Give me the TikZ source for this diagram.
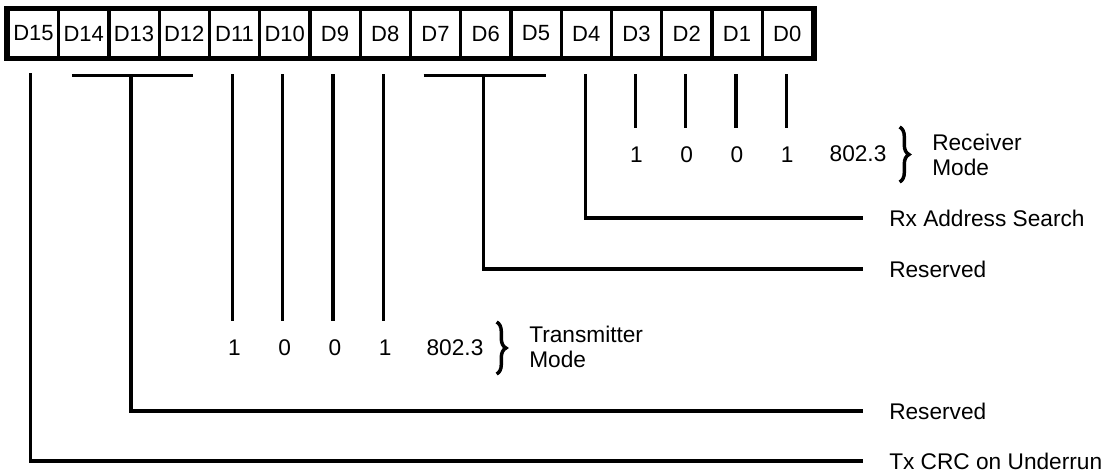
\documentclass[tikz,border=0pt]{standalone}
\usepackage{fontspec}
\setmainfont{Liberation Sans}
\usetikzlibrary{calc,decorations.pathreplacing}

\begin{document}
\begin{tikzpicture}[
    x=0.75pt, y=-0.75pt,
    bit/.style={fill=white, inner sep=0pt, minimum width=35.25pt,
      minimum height=33.75pt, font=\fontsize{16.5}{19}\selectfont},
    val/.style={inner sep=0pt, font=\fontsize{17}{20}\selectfont},
    lbl/.style={anchor=west, inner sep=0pt, align=left,
      font=\fontsize{17}{18.75}\selectfont},
    wire/.style={line width=2.4pt},
    brc/.style={decorate, decoration={brace, amplitude=7pt}, line width=2.6pt}
  ]
  \useasboundingbox (0,0) rectangle (1107,472);

  % Register frame and bit cells
  \fill (4,6) rectangle (817,61);
  \foreach \i in {15,...,0} {
    \node[bit] (D\i) at ({33.5+50.25*(15-\i)},33.5) {D\i};
  }

  % Labels (right)
  \node[lbl] (rxs)  at (889,218) {Rx Address Search};
  \node[lbl] (res1) at (889,269) {Reserved};
  \node[lbl] (res2) at (889,411) {Reserved};
  \node[lbl] (crc)  at (889,461) {Tx CRC on Underrun};

  % Mode values
  \foreach \i/\v in {11/1,10/0,9/0,8/1}
    \node[val] (tv\i) at (D\i |- 0,348) {\v};
  \foreach \i/\v in {3/1,2/0,1/0,0/1}
    \node[val] (rv\i) at (D\i |- 0,155) {\v};
  \node[val] (tstd) at (455,348) {802.3};
  \node[val] (rstd) at (858,154) {802.3};
  \node[lbl] (tmode) at (529,347) {Transmitter\\Mode};
  \node[lbl] (rmode) at (932,155) {Receiver\\Mode};

  % Braces
  \draw[brc] ($(tstd.east)+(13,-26)$) -- ($(tstd.east)+(13,26)$);
  \draw[brc] ($(rstd.east)+(13,-27)$) -- ($(rstd.east)+(13,28)$);

  % Single-bit ticks
  \foreach \i in {11,10,9,8}
    \draw[wire] ($(D\i.south)+(-2,18)$) -- ($(tv\i.north)+(-2,-19)$);
  \foreach \i in {3,2,1,0}
    \draw[wire] ($(D\i.south)+(-1,18)$) -- ($(rv\i.north)+(-1,-19)$);

  % Fields to the labels
  \draw[wire] ($(D15.south)+(-3,17)$) |- ($(crc.west)+(-26,0)$);
  \draw[wire] ($(D14.south)+(-12,19)$) -- ($(D12.south)+(9,19)$);
  \draw[wire] ($(D13.south)+(-3,19)$) |- ($(res2.west)+(-26,0)$);
  \draw[wire] ($(D7.south)+(-12,19)$) -- ($(D5.south)+(10,19)$);
  \draw[wire] ($(D6.south)+(-2,19)$) |- ($(res1.west)+(-26,0)$);
  \draw[wire] ($(D4.south)+(-1,18)$) |- ($(rxs.west)+(-26,0)$);
\end{tikzpicture}
\end{document}
